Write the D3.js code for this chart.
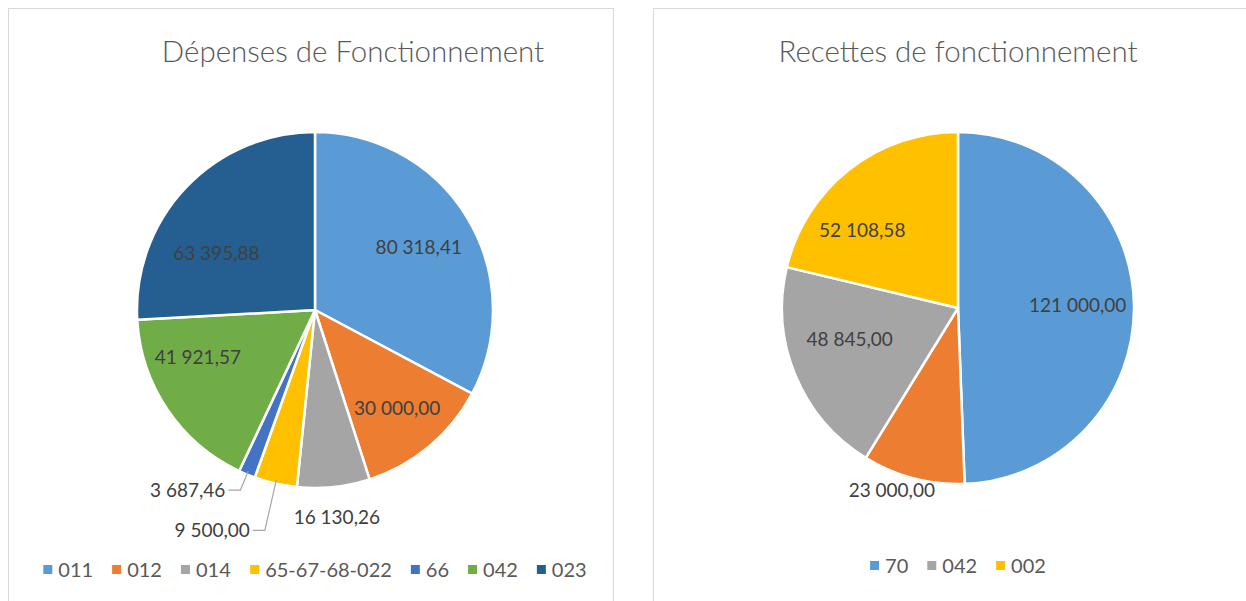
<!DOCTYPE html>
<html>
<head>
<meta charset="utf-8">
<script src="https://cdn.jsdelivr.net/npm/d3@7"></script>
<style>
  body { margin: 0; background: #fff; }
  svg { display: block; font-family: Lato, "Open Sans", sans-serif; }
</style>
</head>
<body>
<svg id="chart" width="1246" height="601"></svg>
<script>
// Dépenses
const depCats = ['011', '012', '014', '65-67-68-022', '66', '042', '023'];
const depValues = [80318.41, 30000.00, 16130.26, 9500.00, 3687.46, 41921.57, 63395.88];
const depColors = ['#5B9BD5', '#ED7D31', '#A5A5A5', '#FFC000', '#4472C4', '#70AD47', '#255E91'];
const depLegend = ['011', '012', '014', '65-67-68-022', '66', '042', '023'];

// Recettes
const recCats = ['70', '023', '042', '002'];
const recValues = [121000.00, 23000.00, 48845.00, 52108.58];
const recColors = ['#5B9BD5', '#ED7D31', '#A5A5A5', '#FFC000'];
const recLegend = ['70', '042', '002'];

const fmt = v => {
  const [i, d] = v.toFixed(2).split('.');
  return i.replace(/\B(?=(\d{3})+(?!\d))/g, ' ') + ',' + d;
};

const svg = d3.select('#chart');

// cadres
svg.append('rect').attr('x', 8.5).attr('y', 8.5).attr('width', 605).attr('height', 610)
  .attr('fill', 'none').attr('stroke', '#d9d9d9');
svg.append('rect').attr('x', 653.5).attr('y', 8.5).attr('width', 610).attr('height', 610)
  .attr('fill', 'none').attr('stroke', '#d9d9d9');

function drawPie(opt) {
  const { cats, values, colors, legend, cx, cy, r, title, titleX, legendY, labelOpts } = opt;
  const g = svg.append('g');

  g.append('text')
    .attr('x', titleX).attr('y', 62)
    .attr('text-anchor', 'middle')
    .attr('font-size', 29.5)
    .attr('font-weight', 300)
    .attr('fill', '#595959')
    .text(title);

  const pie = d3.pie().sort(null).value(d => d.value);
  const arcs = pie(cats.map((c, i) => ({ cat: c, value: values[i], color: colors[i] })));
  const arc = d3.arc().innerRadius(0).outerRadius(r);
  const pg = g.append('g').attr('transform', `translate(${cx},${cy})`);

  pg.selectAll('path').data(arcs).join('path')
    .attr('d', arc)
    .attr('fill', d => d.data.color)
    .attr('stroke', '#fff')
    .attr('stroke-width', 2.5)
    .attr('stroke-linejoin', 'round');

  const polar = (a, rr) => [Math.sin(a) * rr, -Math.cos(a) * rr];

  arcs.forEach(d => {
    const mid = (d.startAngle + d.endAngle) / 2;
    const o = labelOpts[d.data.cat] || { k: 0.68 };
    const txt = fmt(d.data.value);
    if (o.leader) {
      const p0 = polar(mid, r * 0.98);
      const p1 = polar(mid, r * o.k);
      const p2 = [p1[0] - 12, p1[1]];
      pg.append('polyline')
        .attr('points', [p0, p1, p2].map(p => p.join(',')).join(' '))
        .attr('fill', 'none').attr('stroke', '#a6a6a6').attr('stroke-width', 1.2);
      pg.append('text')
        .attr('x', p2[0] - 3).attr('y', p2[1])
        .attr('dy', '0.35em')
        .attr('text-anchor', 'end')
        .attr('font-size', 19).attr('fill', '#404040')
        .text(txt);
    } else {
      const a = o.a != null ? o.a * Math.PI / 180 : mid;
      const p = polar(a, r * o.k);
      pg.append('text')
        .attr('x', p[0]).attr('y', p[1])
        .attr('dy', '0.35em')
        .attr('text-anchor', 'middle')
        .attr('font-size', 19).attr('fill', '#404040')
        .text(txt);
    }
  });

  // légende
  const lg = g.append('g');
  const items = legend.map(l => ({ name: l, color: colors[cats.indexOf(l)] }));
  const item = lg.selectAll('g').data(items).join('g');
  item.append('rect').attr('width', 9).attr('height', 9).attr('y', -5)
    .attr('fill', d => d.color);
  item.append('text').attr('x', 15).attr('dy', '0.35em')
    .attr('font-size', 20).attr('fill', '#595959')
    .text(d => d.name);
  let x = 0;
  item.each(function () {
    const w = this.getBBox().width;
    d3.select(this).attr('transform', `translate(${x},0)`);
    x += w + 19;
  });
  const total = x - 19;
  lg.attr('transform', `translate(${cx - total / 2},${legendY})`);
}

drawPie({
  cats: depCats, values: depValues, colors: depColors, legend: depLegend,
  cx: 315, cy: 310, r: 178,
  title: 'Dépenses de Fonctionnement', titleX: 353, legendY: 570,
  labelOpts: {
    '012': { k: 0.72 },
    '014': { k: 1.17 },
    '65-67-68-022': { k: 1.27, leader: true },
    '66': { k: 1.095, leader: true },
    '042': { k: 0.71, a: 248 },
    '023': { k: 0.64, a: 300 }
  }
});

drawPie({
  cats: recCats, values: recValues, colors: recColors, legend: recLegend,
  cx: 958, cy: 308, r: 176,
  title: 'Recettes de fonctionnement', titleX: 958, legendY: 566,
  labelOpts: {
    '023': { k: 1.1, a: 200 },
    '042': { k: 0.64, a: 254 },
    '002': { k: 0.70, a: 309 }
  }
});
</script>
</body>
</html>
